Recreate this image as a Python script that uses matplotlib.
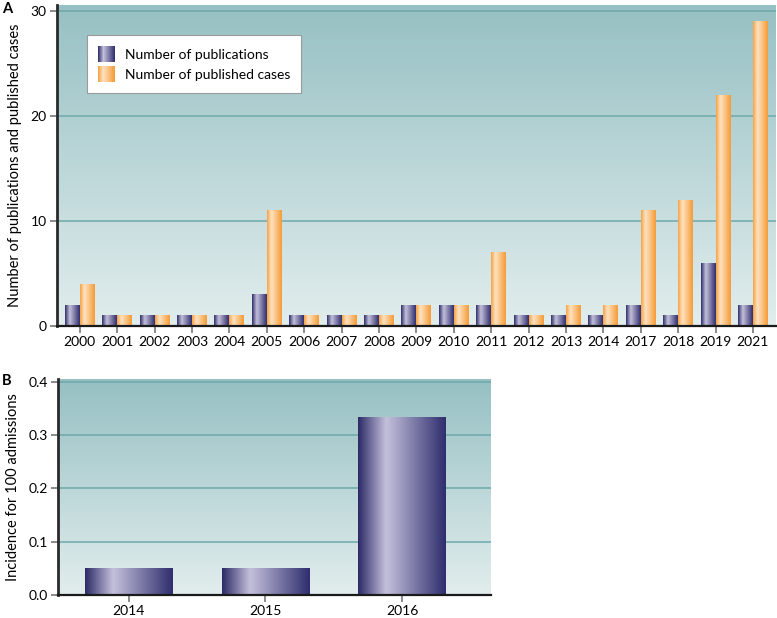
import matplotlib
matplotlib.use('Agg')
import matplotlib.pyplot as plt
import numpy as np
from matplotlib.colors import LinearSegmentedColormap
from matplotlib.legend_handler import HandlerBase
from matplotlib.image import BboxImage
from matplotlib.transforms import Bbox, TransformedBbox
from matplotlib.patches import Patch

plt.rcParams['font.family'] = ['Lato', 'DejaVu Sans']
plt.rcParams['font.size'] = 10

# panel A data
years_a = ['2000', '2001', '2002', '2003', '2004', '2005', '2006', '2007', '2008', '2009',
           '2010', '2011', '2012', '2013', '2014', '2017', '2018', '2019', '2021']
publications = [2, 1, 1, 1, 1, 3, 1, 1, 1, 2, 2, 2, 1, 1, 1, 2, 1, 6, 2]
cases = [4, 1, 1, 1, 1, 11, 1, 1, 1, 2, 2, 7, 1, 2, 2, 11, 12, 22, 29]

# panel B data
years_b = ['2014', '2015', '2016']
incidence = [0.05, 0.05, 0.333]

purple = LinearSegmentedColormap.from_list('pur', [(0, '#2c2a66'), (0.32, '#c4c1dc'), (1, '#2f2d6d')])
orange = LinearSegmentedColormap.from_list('ora', [(0, '#f6a140'), (0.3, '#fee3c2'), (1, '#f59a36')])
bgmap = LinearSegmentedColormap.from_list('bg', ['#e2eded', '#96c0c3'])
grad = np.linspace(0, 1, 256).reshape(1, -1)


def background(ax):
    ax.imshow(np.linspace(0, 1, 256).reshape(-1, 1), cmap=bgmap, origin='lower',
              extent=(0, 1, 0, 1), transform=ax.transAxes, aspect='auto', zorder=-5)


def grad_bars(ax, bars, cmap):
    for b in bars:
        x0, y0 = b.get_x(), b.get_y()
        ax.imshow(grad, cmap=cmap, extent=(x0, x0 + b.get_width(), y0, y0 + b.get_height()),
                  aspect='auto', interpolation='bicubic', zorder=2)
        b.set_visible(False)


def style(ax):
    ax.grid(axis='y', color='#6ea8aa', lw=1.1)
    ax.set_axisbelow(True)
    for s in ['top', 'right']:
        ax.spines[s].set_visible(False)
    ax.spines['left'].set_linewidth(2)
    ax.spines['left'].set_color('#2a2a2a')
    ax.spines['bottom'].set_linewidth(1.6)
    ax.spines['bottom'].set_color('#1a1a1a')
    ax.tick_params(length=5, width=1.2, color='#777777', labelsize=10, pad=2.5)


class GradHandler(HandlerBase):
    def __init__(self, cmap):
        super().__init__()
        self.cmap = cmap

    def create_artists(self, legend, orig_handle, xdescent, ydescent, width, height, fontsize, trans):
        bb = TransformedBbox(Bbox.from_bounds(-xdescent, -ydescent, width, height), trans)
        img = BboxImage(bb, cmap=self.cmap, interpolation='bicubic')
        img.set_data(np.linspace(0, 1, 64).reshape(1, -1))
        return [img]


fig = plt.figure(figsize=(7.77, 6.18), dpi=100)
ax1 = fig.add_axes([0.0734, 0.4725, 0.925, 0.5195])
ax2 = fig.add_axes([0.0746, 0.0372, 0.557, 0.3495])

# panel A
x = np.arange(len(years_a))
w = 0.4
background(ax1)
b1 = ax1.bar(x - w / 2, publications, w, color='#3a3878')
b2 = ax1.bar(x + w / 2, cases, w, color='#f7a443')
grad_bars(ax1, b1, purple)
grad_bars(ax1, b2, orange)
ax1.set_xlim(-0.61, len(years_a) - 0.39)
ax1.set_ylim(0, 30.6)
ax1.set_xticks(x)
ax1.set_xticklabels(years_a)
ax1.set_yticks([0, 10, 20, 30])
ax1.set_ylabel('Number of publications and published cases', fontsize=10.5, labelpad=6)
style(ax1)
h1 = Patch(label='Number of publications')
h2 = Patch(label='Number of published cases')
leg = ax1.legend(handles=[h1, h2], loc='upper left', bbox_to_anchor=(0.042, 0.905), borderaxespad=0,
                 handler_map={h1: GradHandler(purple), h2: GradHandler(orange)},
                 fancybox=False, framealpha=1, edgecolor='#9a9a9a', fontsize=10,
                 handlelength=1.2, handleheight=1.3, borderpad=0.8, labelspacing=0.4,
                 handletextpad=0.7)
leg.get_frame().set_linewidth(0.8)

# panel B
xb = np.arange(len(years_b))
background(ax2)
b3 = ax2.bar(xb, incidence, 0.64, color='#3a3878')
grad_bars(ax2, b3, purple)
ax2.set_xlim(-0.52, 2.65)
ax2.set_ylim(0, 0.405)
ax2.set_xticks(xb)
ax2.set_xticklabels(years_b)
ax2.set_yticks([0.0, 0.1, 0.2, 0.3, 0.4])
ax2.set_yticklabels(['0.0', '0.1', '0.2', '0.3', '0.4'])
ax2.set_ylabel('Incidence for 100 admissions', fontsize=10.5, labelpad=6)
style(ax2)

fig.text(0.003, 0.985, 'A', fontsize=10.5, fontweight='bold', va='center')
fig.text(0.003, 0.383, 'B', fontsize=10.5, fontweight='bold', va='center')

fig.savefig('out.png', dpi=100)
